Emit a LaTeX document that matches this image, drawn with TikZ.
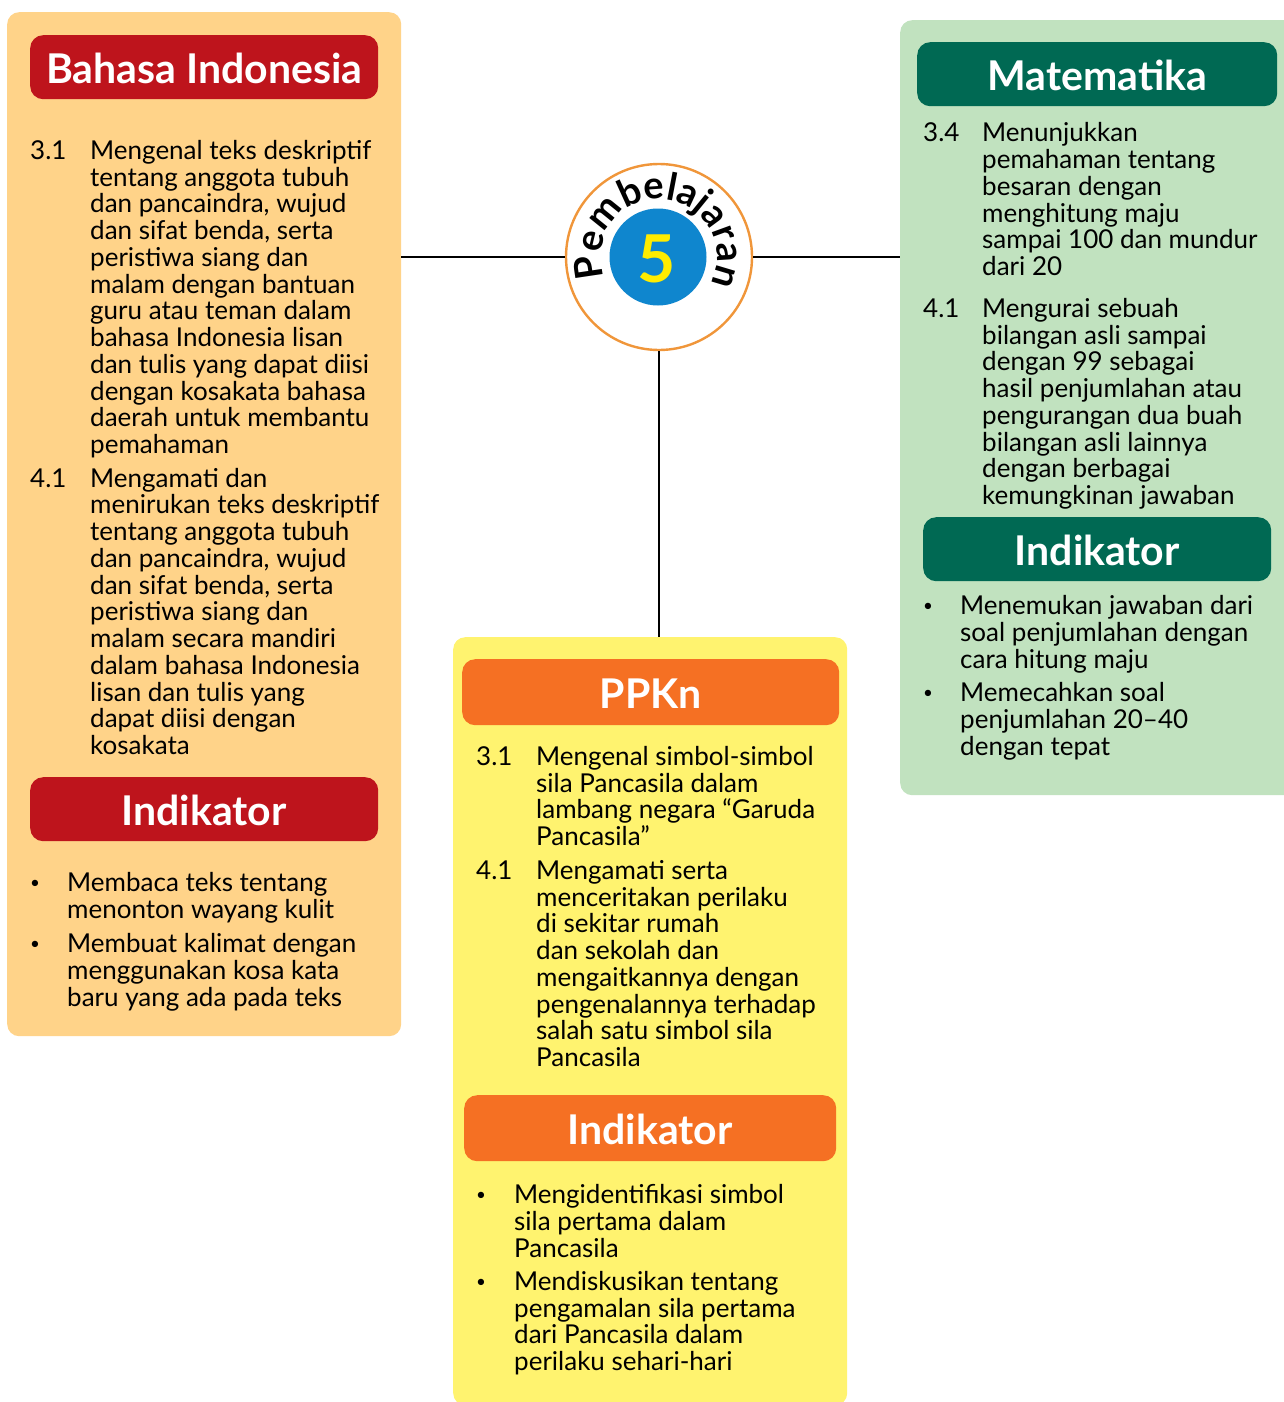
\documentclass[tikz,border=0pt]{standalone}
\usepackage{fontspec}
\setmainfont{Lato}
\usetikzlibrary{decorations.text}
\definecolor{panelorange}{HTML}{FFD389}
\definecolor{panelgreen}{HTML}{C1E2BF}
\definecolor{panelyellow}{HTML}{FFF36F}
\definecolor{headred}{HTML}{BE141C}
\definecolor{headgreen}{HTML}{006953}
\definecolor{headorange}{HTML}{F57023}
\definecolor{ringorange}{HTML}{F0963A}
\definecolor{discblue}{HTML}{0F86CE}
\definecolor{fiveyellow}{HTML}{FFEC00}
\newcommand{\tinybullet}{{\fontsize{17}{17}\selectfont\raisebox{3pt}{•}}}
\begin{document}
\begin{tikzpicture}
	[   x=1pt,y=-1pt,
		panel/.style={fill=#1,rounded corners=12pt,inner sep=0pt,anchor=north west},
		head/.style={fill=#1,rounded corners=13pt,text=white,font=\fontsize{41}{41}\selectfont\bfseries,inner sep=0pt,anchor=north west,text height=32.5pt,text depth=0pt},
		body/.style={anchor=base west,inner sep=0pt,align=left,yshift=-1.5pt,font=\fontsize{26}{26.75}\selectfont},
		link/.style={draw=black,line width=2.4pt},
	]
	\useasboundingbox (0,0) rectangle (1284,1402);
	% panels
	\node[panel=panelorange,minimum width=394pt,minimum height=1024pt] (bi) at (7,12) {};
	\node[panel=panelgreen,minimum width=400pt,minimum height=775pt] (mat) at (900,20) {};
	\node[panel=panelyellow,minimum width=394pt,minimum height=768pt] (pp) at (453,637) {};
	% badge
	\node[circle,draw=ringorange,line width=2.4pt,fill=white,minimum size=186pt,inner sep=0pt] (badge) at (659,257) {};
	\node[circle,fill=discblue,minimum size=97pt,inner sep=0pt] (disc) at (658,257) {};
	\node[text=fiveyellow,font=\fontsize{66}{66}\selectfont\bfseries] (five) at (657,259) {5};
	\path[decorate,decoration={text along path,text align={fit to path},text={|\fontsize{38}{38}\selectfont\bfseries|Pembelajaran}}]
		(604.5,276.8) arc[start angle=200,end angle=-19,radius=58pt];
	% connectors
	\path[link] (bi.east |- badge.center) -- (badge.west);
	\path[link] (badge.east) -- (mat.west |- badge.center);
	\path[link] (badge.south) -- (badge.south |- pp.north);
	% Bahasa Indonesia
	\node[head=headred,minimum width=348pt,minimum height=64pt] (h-bi) at (30,35) {Bahasa Indonesia};
	\node[body] (n-bi-1) at (30,158) {3.1};
	\node[body] (t-bi-1) at (90,452) {Mengenal teks deskriptif\\tentang anggota tubuh\\dan pancaindra, wujud\\dan sifat benda, serta\\peristiwa siang dan\\malam dengan bantuan\\guru atau teman dalam\\bahasa Indonesia lisan\\dan tulis yang dapat diisi\\dengan kosakata bahasa\\daerah untuk membantu\\pemahaman};
	\node[body] (n-bi-2) at (30,486) {4.1};
	\node[body] (t-bi-2) at (90,753) {Mengamati dan\\menirukan teks deskriptif\\tentang anggota tubuh\\dan pancaindra, wujud\\dan sifat benda, serta\\peristiwa siang dan\\malam secara mandiri\\dalam bahasa Indonesia\\lisan dan tulis yang\\dapat diisi dengan\\kosakata};
	\node[head=headred,minimum width=348pt,minimum height=64pt] (i-bi) at (30,777) {Indikator};
	\node[body] (b-bi-1) at (30,890) {\tinybullet};
	\node[body] (u-bi-1) at (67,916.5) {Membaca teks tentang\\menonton wayang kulit};
	\node[body] (b-bi-2) at (30,951) {\tinybullet};
	\node[body] (u-bi-2) at (67,1004.5) {Membuat kalimat dengan\\menggunakan kosa kata\\baru yang ada pada teks};
	% Matematika
	\node[head=headgreen,minimum width=360pt,minimum height=64pt] (h-mat) at (917,42) {Matematika};
	\node[body] (n-mat-1) at (923,140) {3.4};
	\node[body] (t-mat-1) at (982,274) {Menunjukkan\\pemahaman tentang\\besaran dengan\\menghitung maju\\sampai 100 dan mundur\\dari 20};
	\node[body] (n-mat-2) at (923,316) {4.1};
	\node[body] (t-mat-2) at (982,503) {Mengurai sebuah\\bilangan asli sampai\\dengan 99 sebagai\\hasil penjumlahan atau\\pengurangan dua buah\\bilangan asli lainnya\\dengan berbagai\\kemungkinan jawaban};
	\node[head=headgreen,minimum width=348pt,minimum height=64pt] (i-mat) at (923,517) {Indikator};
	\node[body] (b-mat-1) at (923,613) {\tinybullet};
	\node[body] (u-mat-1) at (960,666.5) {Menemukan jawaban dari\\soal penjumlahan dengan\\cara hitung maju};
	\node[body] (b-mat-2) at (923,700) {\tinybullet};
	\node[body] (u-mat-2) at (960,753.5) {Memecahkan soal\\penjumlahan 20--40\\dengan tepat};
	% PPKn
	\node[head=headorange,minimum width=377pt,minimum height=66pt] (h-pp) at (462,659) {PPKn};
	\node[body] (n-pp-1) at (476,764) {3.1};
	\node[body] (t-pp-1) at (536,844) {Mengenal simbol-simbol\\sila Pancasila dalam\\lambang negara “Garuda\\Pancasila”};
	\node[body] (n-pp-2) at (476,878) {4.1};
	\node[body] (t-pp-2) at (536,1065) {Mengamati serta\\menceritakan perilaku\\di sekitar rumah\\dan sekolah dan\\mengaitkannya dengan\\pengenalannya terhadap\\salah satu simbol sila\\Pancasila};
	\node[head=headorange,minimum width=372pt,minimum height=66pt] (i-pp) at (464,1095) {Indikator};
	\node[body] (b-pp-1) at (476,1202) {\tinybullet};
	\node[body] (u-pp-1) at (514,1255.5) {Mengidentifikasi simbol\\sila pertama dalam\\Pancasila};
	\node[body] (b-pp-2) at (476,1289) {\tinybullet};
	\node[body] (u-pp-2) at (514,1369) {Mendiskusikan tentang\\pengamalan sila pertama\\dari Pancasila dalam\\perilaku sehari-hari};
\end{tikzpicture}
\end{document}
